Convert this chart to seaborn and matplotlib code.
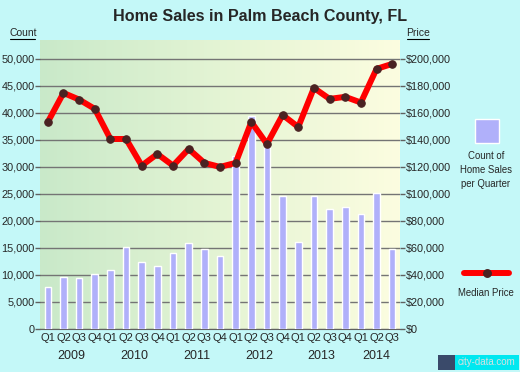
import numpy as np
import pandas as pd
import seaborn as sns
import matplotlib.pyplot as plt
from matplotlib.lines import Line2D
from matplotlib.patches import Rectangle
from matplotlib.colors import LinearSegmentedColormap
from matplotlib.ticker import FuncFormatter, FixedLocator

# DATA
quarters = ['Q1', 'Q2', 'Q3', 'Q4'] * 5 + ['Q1', 'Q2', 'Q3']
years = ['2009', '2010', '2011', '2012', '2013', '2014']
sales_count = [7800, 9600, 9450, 10200, 10900, 15200, 12400, 11650, 14050, 15900, 14800, 13500,
               32000, 39400, 34400, 24600, 16100, 24600, 22150, 22550, 21300, 25100, 14800]
median_price = [153300, 174800, 169900, 163000, 140700, 140700, 121000, 129600, 121000, 133300, 123000, 120000,
                123000, 153300, 137000, 158500, 149600, 178500, 170400, 171900, 167700, 192600, 196300]

sns.set_style('white')
plt.rcParams['font.family'] = ['Liberation Sans', 'DejaVu Sans']

df = pd.DataFrame({'idx': np.arange(len(sales_count)), 'count': sales_count, 'price': median_price})

bg = '#c4f8f8'
fig = plt.figure(figsize=(5.2, 3.72), dpi=100, facecolor=bg)
ax = fig.add_axes([40 / 520, 1 - 329 / 372, 360 / 520, 289 / 372])
ymax = 53500

# gradient background green -> pale yellow
cmap = LinearSegmentedColormap.from_list('bgr', ['#c9e9c9', '#e4f4d4', '#fcfde0'])
ax.imshow(np.linspace(0, 1, 256).reshape(1, -1), cmap=cmap, aspect='auto',
          extent=(-0.5, len(df) - 0.5, 0, ymax), zorder=0)

sns.barplot(data=df, x='idx', y='count', color='#b0b0fa', edgecolor='white', linewidth=1,
            width=0.42, saturation=1, ax=ax, zorder=3)
ax.set_xlim(-0.5, len(df) - 0.5)
ax.set_ylim(0, ymax)
ax.yaxis.set_major_locator(FixedLocator(np.arange(0, 50001, 5000)))
ax.yaxis.set_major_formatter(FuncFormatter(lambda v, p: f'{int(v):,}'))
ax.grid(axis='y', color='#747474', linewidth=1, zorder=1)
for gl in ax.get_ygridlines():
    gl.set_zorder(1)
ax.set_xticks(np.arange(len(df)))
ax.set_xticklabels(quarters)
ax.xaxis.set_minor_locator(FixedLocator(np.arange(-0.5, len(df), 1)))
ax.tick_params(axis='x', which='major', length=0, labelsize=8, pad=3)
ax.tick_params(axis='x', which='minor', length=3.6, color='#606060', width=1)
ax.tick_params(axis='y', length=3.6, color='#606060', width=1, labelsize=7.8, pad=0.3)
ax.set_xlabel('')
ax.set_ylabel('')
for s in ['top', 'right', 'left']:
    ax.spines[s].set_visible(False)
ax.spines['bottom'].set_color('#606060')

year_pos = [1.5, 5.5, 9.5, 13.5, 17.5, 21]
for x, y in zip(year_pos, years):
    ax.text(x, -0.092, y, transform=ax.get_xaxis_transform(), ha='center', va='center', fontsize=9)

# median price line on right axis
ax2 = ax.twinx()
sns.lineplot(data=df, x='idx', y='price', ax=ax2, color='#ff0000', linewidth=4.3, zorder=4,
             marker='o', markersize=5.4, markerfacecolor='#4a2222', markeredgecolor='#4a2222')
ax2.set_ylim(0, ymax * 4)
ax2.yaxis.set_major_locator(FixedLocator(np.arange(0, 200001, 20000)))
ax2.yaxis.set_major_formatter(FuncFormatter(lambda v, p: f'${int(v):,}'))
ax2.tick_params(axis='y', length=3.6, color='#606060', width=1, labelsize=7.8, pad=0.3)
ax2.set_ylabel('')
ax2.set_xlabel('')
for s in ax2.spines.values():
    s.set_visible(False)

fig.text(260 / 520, 1 - 16 / 372, 'Home Sales in Palm Beach County, FL', ha='center', va='center',
         fontsize=11.6, fontweight='bold')
fig.text(23 / 520, 1 - 33 / 372, 'Count', ha='center', va='center', fontsize=7.5)
fig.add_artist(Line2D([10 / 520, 35 / 520], [1 - 39 / 372] * 2, color='black', linewidth=0.8))
fig.text(418 / 520, 1 - 33 / 372, 'Price', ha='center', va='center', fontsize=7.5)
fig.add_artist(Line2D([407 / 520, 429 / 520], [1 - 39 / 372] * 2, color='black', linewidth=0.8))

# legend
fig.add_artist(Rectangle((475 / 520, 1 - 143 / 372), 24 / 520, 24 / 372, facecolor='#b0b0fa',
                         edgecolor='white', linewidth=1))
fig.text(486 / 520, 1 - 170 / 372, 'Count of\nHome Sales\nper Quarter', ha='center', va='center',
         fontsize=6.9, linespacing=1.45)
fig.add_artist(Line2D([464 / 520, 509 / 520], [1 - 273 / 372] * 2, color='#ff0000', linewidth=4.3))
fig.add_artist(Line2D([486.5 / 520], [1 - 273 / 372], marker='o', markersize=5.4, color='#4a2222'))
fig.text(486 / 520, 1 - 293 / 372, 'Median Price', ha='center', va='center', fontsize=6.9)

# watermark
fig.add_artist(Rectangle((438 / 520, 1 - 370 / 372), 17 / 520, 15 / 372, facecolor='#3a4a6a', edgecolor='none'))
fig.add_artist(Rectangle((455 / 520, 1 - 370 / 372), 64 / 520, 15 / 372, facecolor='#00e8f0', edgecolor='none'))
fig.text(487 / 520, 1 - 362 / 372, 'city-data.com', ha='center', va='center', fontsize=7, color='#d8e0e0',
         zorder=5)

plt.savefig('out.png', dpi=100, facecolor=bg)
